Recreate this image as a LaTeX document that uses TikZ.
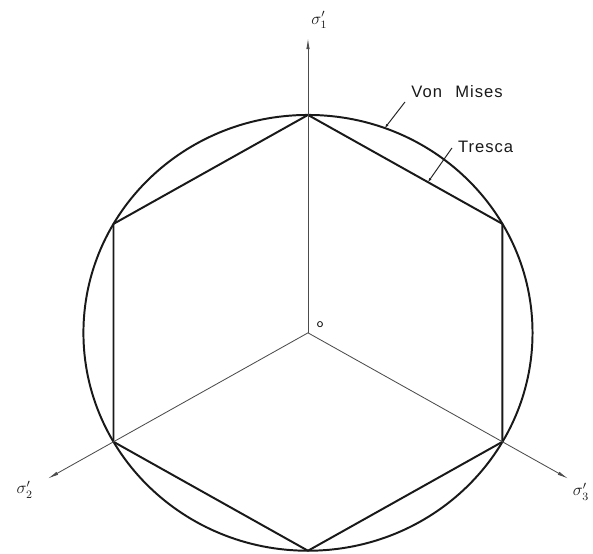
\documentclass[tikz,border=0pt]{standalone}
\usepackage{fontspec}
\newfontfamily\lblfont{Liberation Sans}[LetterSpace=6]
\usetikzlibrary{arrows.meta,calc}

\begin{document}
\begin{tikzpicture}[
  x=0.02575cm, y=0.025cm,
  axis/.style={draw=black!70, line width=0.6pt, -{Latex[length=8pt,width=2.4pt]}},
  yld/.style={draw=black!90, line width=1.4pt, line join=round},
  lead/.style={draw=black!85, line width=0.7pt, {Latex[length=3pt,width=2pt]}-},
  crit/.style={font=\lblfont\fontsize{11.8}{14}\selectfont, inner sep=1pt, text=black!90},
  sig/.style={font=\large, inner sep=0pt, text=black!90}
]
\useasboundingbox (-299,-221) rectangle (276.7,333);

% ── origin and hexagon corners ───────────────────────────────────────────
\coordinate (O) at (0,0);
\foreach \a/\n in {90/t, 150/tl, 210/bl, 270/b, 330/br, 30/tr}
  \coordinate (\n) at (\a:218);

% ── yield surfaces ───────────────────────────────────────────────────────
\draw[yld] (O) circle [radius=218];
\draw[yld] (t) -- (tl) -- (bl) -- (b) -- (br) -- (tr) -- cycle;

% ── principal stress axes ────────────────────────────────────────────────
\coordinate (e1) at (90:295);
\coordinate (e2) at (210:292);
\coordinate (e3) at (330:292);
\draw[axis] (O) -- (e1);
\draw[axis] (O) -- (e2);
\draw[axis] (O) -- (e3);
\node[sig] (s1) at (11,313) {$\sigma_1'$};
\node[sig] (s2) at (-275,-157) {$\sigma_2'$};
\node[sig] (s3) at (265,-159) {$\sigma_3'$};
\node[font=\sffamily\small, inner sep=0pt] (o) at (11.7,8) {o};

% ── criterion labels ─────────────────────────────────────────────────────
\coordinate (vm) at (70:218);
\coordinate (tr-pt) at ($(t)!0.617!(tr)$);
\node[crit] (lvm) at (144.7,241) {Von\hspace{0.8em}Mises};
\node[crit] (ltr) at (172.5,186) {Tresca};
\draw[lead] (vm) -- (94.2,231) coordinate (vm-end);
\draw[lead] (tr-pt) -- (139.8,185) coordinate (tr-end);

\end{tikzpicture}
\end{document}
